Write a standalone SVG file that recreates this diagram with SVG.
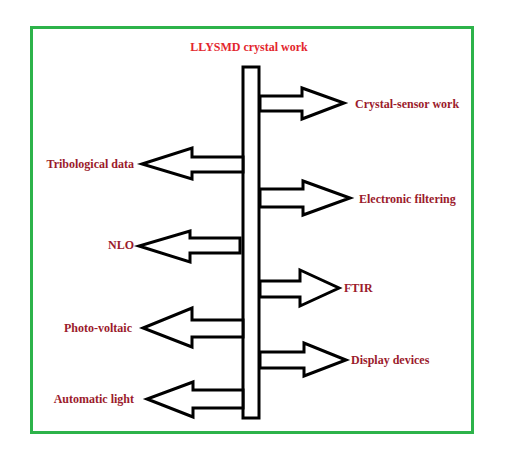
<svg xmlns="http://www.w3.org/2000/svg" width="517" height="460" viewBox="0 0 517 460">
<style>
.frame{fill:none;stroke:#2db34a;stroke-width:3}
.bar{fill:#fff;stroke:#000;stroke-width:3}
.arr{fill:#fff;stroke:#000;stroke-width:3;stroke-linejoin:miter}
.lbl{font-family:"Liberation Serif","Times New Roman",serif;font-weight:bold;font-size:12px;fill:#9b1b2c}
.title{font-family:"Liberation Serif","Times New Roman",serif;font-weight:bold;font-size:12px;fill:#e3262d}
</style>
<rect width="517" height="460" fill="#fff"/>
<rect class="frame" x="31.5" y="27.5" width="441" height="405"/>
<g id="main">
<text class="title" x="249" y="51" text-anchor="middle">LLYSMD crystal work</text>
<rect class="bar" x="243" y="67" width="16" height="351"/>
</g>
<g id="connectors">
<polygon class="arr" points="260,96 302,96 302,88 344,103 302,119 302,111 260,111"/>
<polygon class="arr" points="260,189 303,189 303,181 350,198 303,215 303,207 260,207"/>
<polygon class="arr" points="260,281 300,281 300,270 339,288 300,306 300,297 260,297"/>
<polygon class="arr" points="260,352 304,352 304,343 346,360 304,376 304,368 260,368"/>
<polygon class="arr" points="243,157 192,157 192,148 142,164 192,179 192,172 243,172"/>
<polygon class="arr" points="240,238 190,238 190,231 139,246 190,262 190,253 240,253"/>
<polygon class="arr" points="243,320 192,320 192,308 143,328 192,347 192,337 243,337"/>
<polygon class="arr" points="243,390 193,390 193,382 147,399 193,417 193,408 243,408"/>
</g>
<g id="crystal-sensor"><text class="lbl" x="355" y="108">Crystal-sensor work</text></g>
<g id="electronic"><text class="lbl" x="359" y="203">Electronic filtering</text></g>
<g id="ftir"><text class="lbl" x="344" y="292">FTIR</text></g>
<g id="display"><text class="lbl" x="351" y="364">Display devices</text></g>
<g id="tribological"><text class="lbl" x="134" y="168" text-anchor="end">Tribological data</text></g>
<g id="nlo"><text class="lbl" x="134" y="249" text-anchor="end">NLO</text></g>
<g id="photo"><text class="lbl" x="132" y="332" text-anchor="end">Photo-voltaic</text></g>
<g id="automatic"><text class="lbl" x="134" y="403" text-anchor="end">Automatic light</text></g>
</svg>
